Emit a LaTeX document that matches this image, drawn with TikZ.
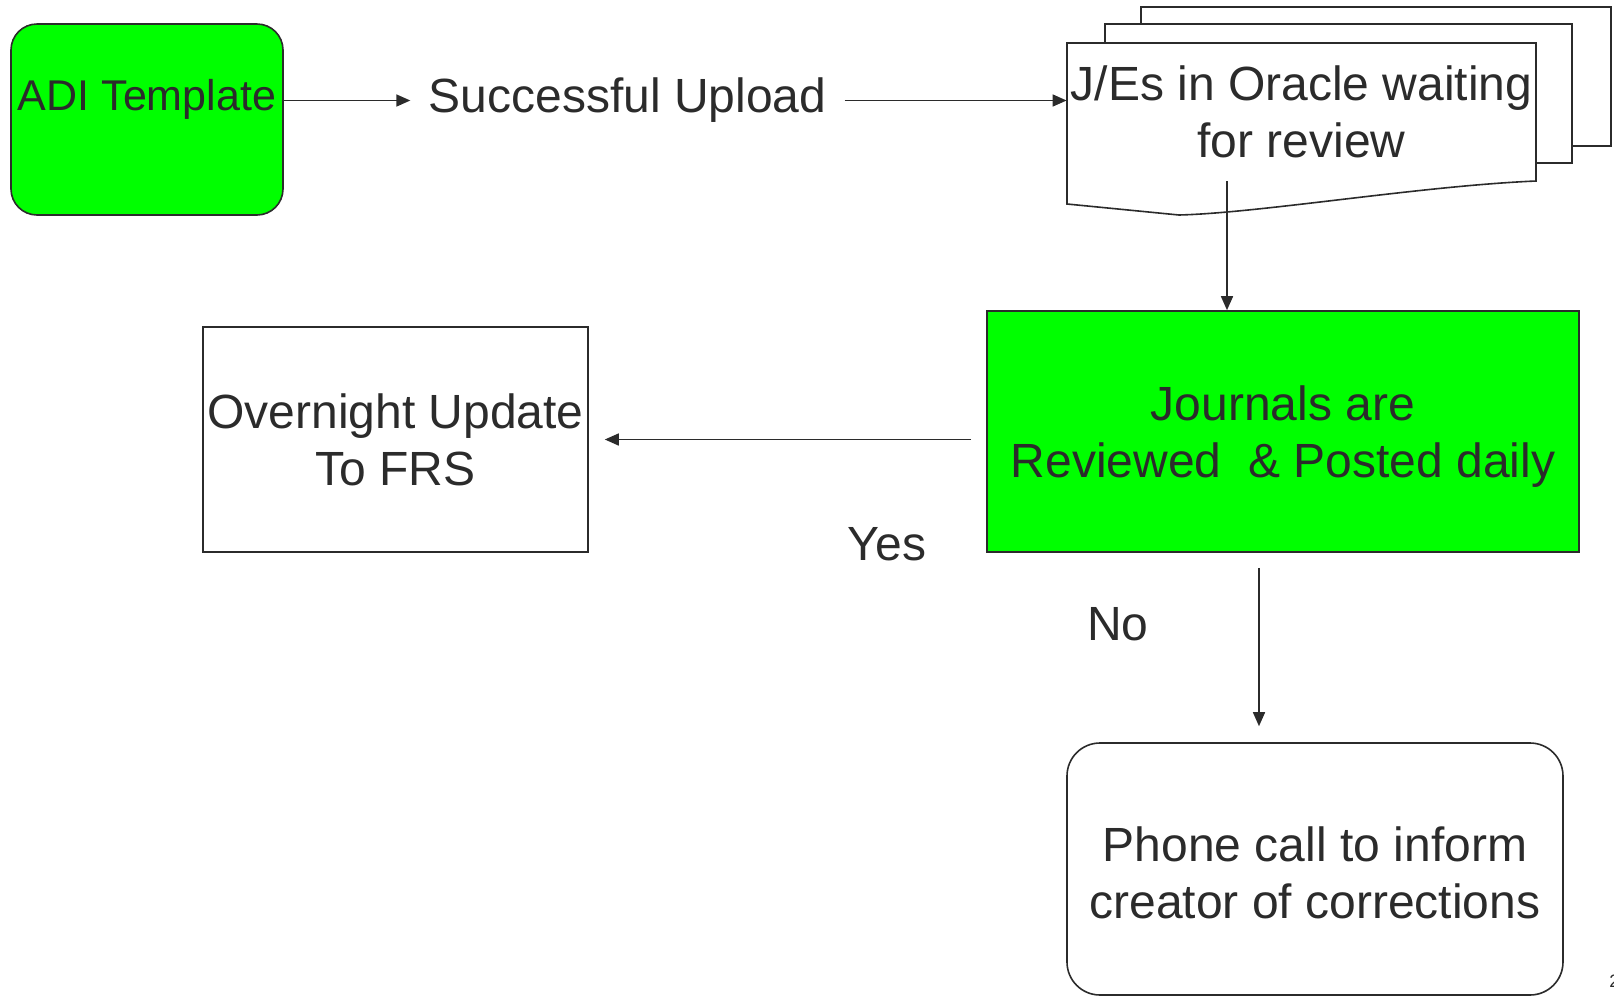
\documentclass[tikz,border=0pt]{standalone}
\usepackage{fontspec}
\setmainfont{Liberation Sans}
\usetikzlibrary{arrows.meta}
\definecolor{ink}{HTML}{2B2B2B}
\definecolor{lime}{HTML}{00FF00}
\begin{document}
\begin{tikzpicture}[x=0.5pt,y=-0.5pt,
  line/.style={draw=ink, line width=0.8pt},
  arr/.style={line, -{Triangle[length=7pt,width=6pt]}},
  txt/.style={font=\fontsize{24}{28.5}\selectfont, text=ink, align=center},
  box/.style={line, rectangle, inner sep=0pt, txt},
]
\useasboundingbox (0,0) rectangle (1614,997);

% ADI template
\node[box, rounded corners=13pt, fill=lime, minimum width=136pt, minimum height=95.5pt,
  label={[name=adilabel, txt, font=\fontsize{21.5}{25}\selectfont, yshift=10.2pt]center:ADI Template}] (adi) at (147,119.5) {};

% Successful upload label
\node[txt, inner xsep=9pt, inner ysep=0pt] (upload) at (627.5,100.5) {Successful Upload};

% stacked documents
\draw[line, fill=white] (1141,7) rectangle (1611,146);
\draw[line, fill=white] (1105,24) rectangle (1572,163);
\draw[line, fill=white] (1067,43) -- (1536,43) -- (1536,181)
  .. controls (1420,186) and (1260,213) .. (1179,215) -- (1067,204) -- cycle;
\node[txt, minimum width=234.5pt, minimum height=69pt, inner sep=0pt] (doc) at (1301.5,112) {J/Es in Oracle waiting\\for review};

% reviewed box
\node[box, fill=lime, minimum width=296pt, minimum height=120.5pt,
  label={[name=revlabel, txt, yshift=-2.3pt]center:{Journals are\\Reviewed~ \& Posted daily}}] (rev) at (1283,431.5) {};

% overnight update
\node[box, minimum width=192.5pt, minimum height=112.5pt] (over) at (395.5,439.5) {Overnight Update\\To FRS};

% phone call
\node[box, rounded corners=16.5pt, minimum width=248pt, minimum height=126pt,
  label={[name=phonelabel, txt, yshift=-2pt]center:{Phone call to inform\\creator of corrections}}] (phone) at (1315,869) {};

% labels
\node[txt] (yes) at (887,544) {Yes};
\node[txt] (no) at (1118,624) {No};
\node[font=\fontsize{9}{10}\selectfont, text=ink, anchor=base west, inner sep=0pt] (pagenum) at (1609,987) {2};

% connectors
\draw[arr] (adi.east |- upload.west) -- (upload.west);
\draw[arr] (upload.east) -- (upload.east -| doc.west);
\draw[arr] ([xshift=-37.25pt]doc.south) -- ([xshift=-37.25pt]doc.south |- rev.north);
\draw[arr, shorten <=7.5pt, shorten >=8pt] (rev.west |- over.east) -- (over.east);
\draw[arr, shorten <=7.5pt, shorten >=8pt] ([xshift=-12pt]rev.south) -- ([xshift=-12pt]rev.south |- phone.north);
\end{tikzpicture}
\end{document}
